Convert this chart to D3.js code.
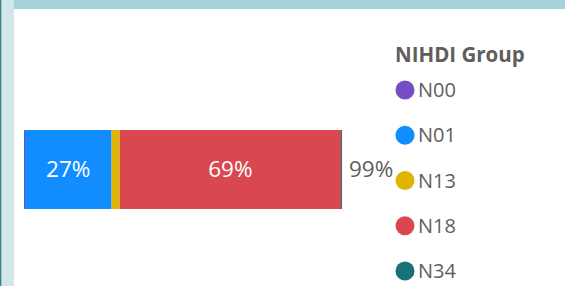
<!DOCTYPE html>
<html><head><meta charset="utf-8">
<script src="https://cdn.jsdelivr.net/npm/d3@7"></script>
<style>html,body{margin:0;padding:0;background:#fff;overflow:hidden}</style>
</head><body>
<svg id="c" width="565" height="286"></svg>
<script>
const categories = ["N00", "N01", "N13", "N18", "N34"];
const values = [0.003, 0.27, 0.025, 0.69, 0.003];
const colors = ["#744EC2", "#118DFF", "#E0B400", "#D9474F", "#197278"];
const legendTitle = "NIHDI Group";

const svg = d3.select("#c");
const font = "'Segoe UI', 'Open Sans', sans-serif";
const grey = "#605E5C";

// frame decorations
svg.append("rect").attr("x", 0).attr("y", 0).attr("width", 14).attr("height", 286).attr("fill", "#D2E7EA");
svg.append("rect").attr("x", 0).attr("y", 0).attr("width", 1.3).attr("height", 286).attr("fill", "#3F7F87");
svg.append("rect").attr("x", 14).attr("y", 0).attr("width", 551).attr("height", 9).attr("fill", "#A6D2D8");

const total = d3.sum(values);
const x = d3.scaleLinear().domain([0, total]).range([24, 342]);
const y = d3.scaleBand().domain(["row"]).range([130, 209]);

let acc = 0;
const segs = values.map((v, i) => { const s = {cat: categories[i], v, x0: acc, x1: acc + v, color: colors[i]}; acc += v; return s; });

const g = svg.append("g");
g.selectAll("rect.seg").data(segs).join("rect").attr("class", "seg")
  .attr("x", d => x(d.x0)).attr("y", y("row"))
  .attr("width", d => Math.max(1, x(d.x1) - x(d.x0))).attr("height", y.bandwidth())
  .attr("fill", d => d.color);

g.selectAll("text.lab").data(segs.filter(d => d.v > 0.1)).join("text").attr("class", "lab")
  .attr("x", d => (x(d.x0) + x(d.x1)) / 2).attr("y", y("row") + y.bandwidth() / 2)
  .attr("dy", "0.35em").attr("text-anchor", "middle")
  .attr("font-family", font).attr("font-size", 22.5).attr("fill", "#fff")
  .text(d => d3.format(".0%")(d.v));

g.append("text").attr("x", x(total) + 7).attr("y", y("row") + y.bandwidth() / 2)
  .attr("dy", "0.35em").attr("font-family", font).attr("font-size", 22.5).attr("fill", grey)
  .text(d3.format(".0%")(total));

// legend
const lg = svg.append("g");
lg.append("text").attr("x", 395).attr("y", 62).attr("font-family", font)
  .attr("font-weight", "bold").attr("font-size", 20.5).attr("fill", grey).text(legendTitle);
const ly = d3.scalePoint().domain(categories).range([90, 271]);
const items = lg.selectAll("g.item").data(categories).join("g").attr("class", "item")
  .attr("transform", d => `translate(0,${ly(d)})`);
items.append("circle").attr("cx", 405).attr("cy", 0).attr("r", 9.5).attr("fill", (d, i) => colors[i]);
items.append("text").attr("x", 418).attr("y", 0).attr("dy", "0.35em")
  .attr("font-family", font).attr("font-size", 20).attr("fill", grey).text(d => d);
</script>
</body></html>
